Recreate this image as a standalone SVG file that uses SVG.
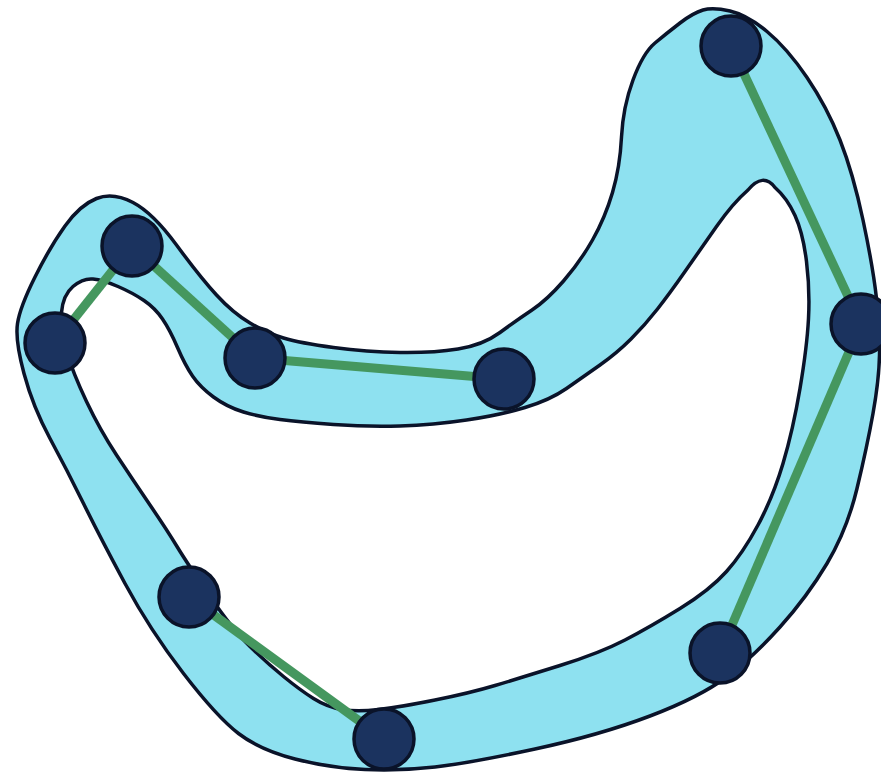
<svg xmlns="http://www.w3.org/2000/svg" width="881" height="772" viewBox="0 0 881 772">
<style>
.hull{fill:#8ee1f0;stroke:#0a1329;stroke-width:3.5;fill-rule:evenodd;stroke-linejoin:round}
.edge{stroke:#45975f;stroke-width:9;stroke-linecap:butt;fill:none}
.node{fill:#1b335f;stroke:#0a1329;stroke-width:3.5}
</style>
<rect width="881" height="772" fill="#ffffff"/>
<g id="hull">
<path class="hull" d="M 703,10 Q 713,7 730,11 Q 747,15 767,31.5 Q 787,48 807,77.5 Q 827,107 840,140 Q 853,173 863,220 Q 873,267 876.5,298.5 Q 880,330 879.5,355 Q 879,380 873,413.5 Q 867,447 857,488.5 Q 847,530 827,563.5 Q 807,597 780,627 Q 753,657 726.5,677 Q 700,697 650,716 Q 600,735 535,749 Q 470,763 435,767 Q 400,771 365,769.5 Q 330,768 295,759 Q 260,750 238.5,733.5 Q 217,717 183.5,673.5 Q 150,630 125,583.5 Q 100,537 83.5,503.5 Q 67,470 50,438.5 Q 33,407 24,373.5 Q 15,340 17.5,323.5 Q 20,307 35,277 Q 50,247 65,226 Q 80,205 96.5,198.5 Q 113,192 133,202.5 Q 153,213 176.5,245 Q 200,277 216.5,295 Q 233,313 250,323 Q 267,333 283.5,338 Q 300,343 333.5,347.5 Q 367,352 400,352.5 Q 433,353 458,349 Q 483,345 500,332.5 Q 517,320 532,310 Q 547,300 563.5,281 Q 580,262 592.5,240 Q 605,218 612.5,192.5 Q 620,167 621.5,137 Q 623,107 633,80 Q 643,53 655,43 Q 667,33 680,23 Q 693,13 703,10 Z M 748,190 Q 763,172 775,187.5 Q 787,198 795,215.5 Q 803,233 806.5,261.5 Q 810,290 808.5,318.5 Q 807,347 800,388.5 Q 793,430 783,463.5 Q 773,497 758,525 Q 743,553 726.5,571.5 Q 710,590 680,608.5 Q 650,627 625,640 Q 600,653 560,665.5 Q 520,678 495,685.5 Q 470,693 435,700 Q 400,707 378.5,709.5 Q 357,712 342,709.5 Q 327,707 313.5,698.5 Q 300,690 283.5,676.5 Q 267,663 250,646.5 Q 233,630 210,596.5 Q 187,563 177,546.5 Q 167,530 150,505 Q 133,480 116.5,455 Q 100,430 86.5,401.5 Q 73,373 66.5,351.5 Q 60,330 61.5,312.5 Q 63,295 73,286.5 Q 83,278 93,279 Q 103,280 118,286.5 Q 133,293 144,300.5 Q 155,308 162.5,319 Q 170,330 177.5,347.5 Q 185,365 192.5,376 Q 200,387 213.5,397 Q 227,407 243.5,412 Q 260,417 280,419.5 Q 300,422 333.5,424.5 Q 367,427 400,426 Q 433,425 466.5,420 Q 500,415 525,407.5 Q 550,400 566.5,388.5 Q 583,377 600,365 Q 617,353 631,339 Q 645,325 657.5,309 Q 670,293 685,271.5 Q 700,250 716.5,226.5 Q 733,203 748,190 Z"/>
</g>
<g id="connectors">
<line class="edge" x1="731" y1="46" x2="861" y2="324"/>
<line class="edge" x1="861" y1="324" x2="720" y2="653"/>
<line class="edge" x1="384" y1="739" x2="189" y2="597"/>
<line class="edge" x1="55" y1="343" x2="132" y2="246"/>
<line class="edge" x1="132" y1="246" x2="255" y2="358"/>
<line class="edge" x1="255" y1="358" x2="504" y2="379"/>
</g>
<g id="n1"><circle class="node" cx="731" cy="46" r="30"/></g>
<g id="n2"><circle class="node" cx="861" cy="324" r="30"/></g>
<g id="n3"><circle class="node" cx="720" cy="653" r="30"/></g>
<g id="n4"><circle class="node" cx="384" cy="739" r="30"/></g>
<g id="n5"><circle class="node" cx="189" cy="597" r="30"/></g>
<g id="n6"><circle class="node" cx="55" cy="343" r="30"/></g>
<g id="n7"><circle class="node" cx="132" cy="246" r="30"/></g>
<g id="n8"><circle class="node" cx="255" cy="358" r="30"/></g>
<g id="n9"><circle class="node" cx="504" cy="379" r="30"/></g>
</svg>
